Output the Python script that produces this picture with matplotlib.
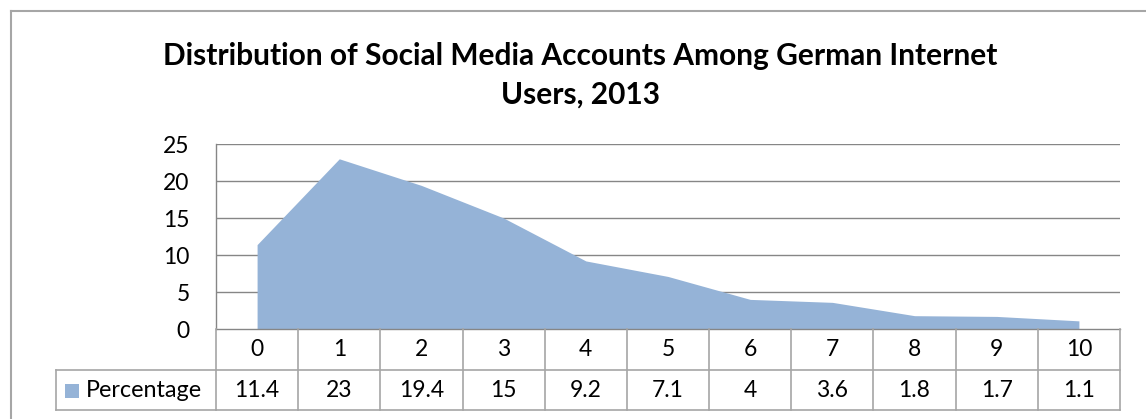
import matplotlib
matplotlib.use("Agg")
import matplotlib.pyplot as plt
import matplotlib.transforms as mtrans
from matplotlib.lines import Line2D
from matplotlib.patches import Rectangle

# data
accounts = ["0", "1", "2", "3", "4", "5", "6", "7", "8", "9", "10"]
percentage = [11.4, 23, 19.4, 15, 9.2, 7.1, 4, 3.6, 1.8, 1.7, 1.1]
pct_labels = ["11.4", "23", "19.4", "15", "9.2", "7.1", "4", "3.6", "1.8", "1.7", "1.1"]
series_name = "Percentage"
title = "Distribution of Social Media Accounts Among German Internet\nUsers, 2013"

fill_col = "#95B3D7"
line_col = "#A6A6A6"
grid_col = "#868686"

plt.rcParams['font.family'] = ['Lato', 'DejaVu Sans']

W, H = 1146, 419
fig = plt.figure(figsize=(W / 100, H / 100), dpi=100)

def fx(px):
    return px / W

def fy(py):
    return 1 - py / H

# plot area
ax = fig.add_axes([fx(216), fy(329), fx(1120) - fx(216), fy(144) - fy(329)])
xs = list(range(len(accounts)))
ax.fill_between(xs, percentage, 0, color=fill_col, linewidth=0, zorder=2)
ax.set_xlim(-0.5, len(accounts) - 0.5)
ax.set_ylim(0, 25)
ax.set_yticks([0, 5, 10, 15, 20, 25])
ax.set_xticks([])
ax.tick_params(axis='y', length=0, pad=19, labelsize=16.5)
for y in [5, 10, 15, 20, 25]:
    ax.axhline(y, color=grid_col, linewidth=1, zorder=1)
for s in ['top', 'right']:
    ax.spines[s].set_visible(False)
for s in ['left', 'bottom']:
    ax.spines[s].set_color(grid_col)
    ax.spines[s].set_linewidth(1)

# data table below the plot
tr = mtrans.blended_transform_factory(ax.transData, fig.transFigure)
row_top, row_mid, row_bot = fy(329), fy(370), fy(410)
for i in range(len(accounts) + 1):
    xb = i - 0.5
    fig.add_artist(Line2D([xb, xb], [row_bot, row_top], transform=tr, color=line_col, lw=1.2))
xr = len(accounts) - 0.5
fig.add_artist(Line2D([-0.5, xr], [row_mid, row_mid], transform=tr, color=line_col, lw=1.2))
fig.add_artist(Line2D([-0.5, xr], [row_bot, row_bot], transform=tr, color=line_col, lw=1.2))
# legend cell
fig.add_artist(Line2D([fx(56), fx(216)], [row_mid, row_mid], transform=fig.transFigure, color=line_col, lw=1.2))
fig.add_artist(Line2D([fx(56), fx(216)], [row_bot, row_bot], transform=fig.transFigure, color=line_col, lw=1.2))
fig.add_artist(Line2D([fx(56), fx(56)], [row_bot, row_mid], transform=fig.transFigure, color=line_col, lw=1.2))
fig.add_artist(Rectangle((fx(65), fy(398)), fx(14), fy(384) - fy(398), transform=fig.transFigure,
                         facecolor=fill_col, edgecolor='none'))
fig.text(fx(86), (row_mid + row_bot) / 2, series_name, fontsize=16.8, va='center', ha='left')

for i, (c, v) in enumerate(zip(accounts, pct_labels)):
    fig.text(i, (row_top + row_mid) / 2, c, transform=tr, fontsize=16.5, ha='center', va='center')
    fig.text(i, (row_mid + row_bot) / 2, v, transform=tr, fontsize=16.5, ha='center', va='center')

# title
fig.text(fx(580), fy(75), title, fontsize=21.5, fontweight='bold', ha='center', va='center',
         linespacing=1.45)

# chart border
fig.add_artist(Line2D([fx(10.5), fx(10.5)], [0, fy(11.5)], transform=fig.transFigure, color=line_col, lw=1.5))
fig.add_artist(Line2D([fx(10.5), 1], [fy(11.5), fy(11.5)], transform=fig.transFigure, color=line_col, lw=1.5))

fig.savefig("out.png", dpi=100)
